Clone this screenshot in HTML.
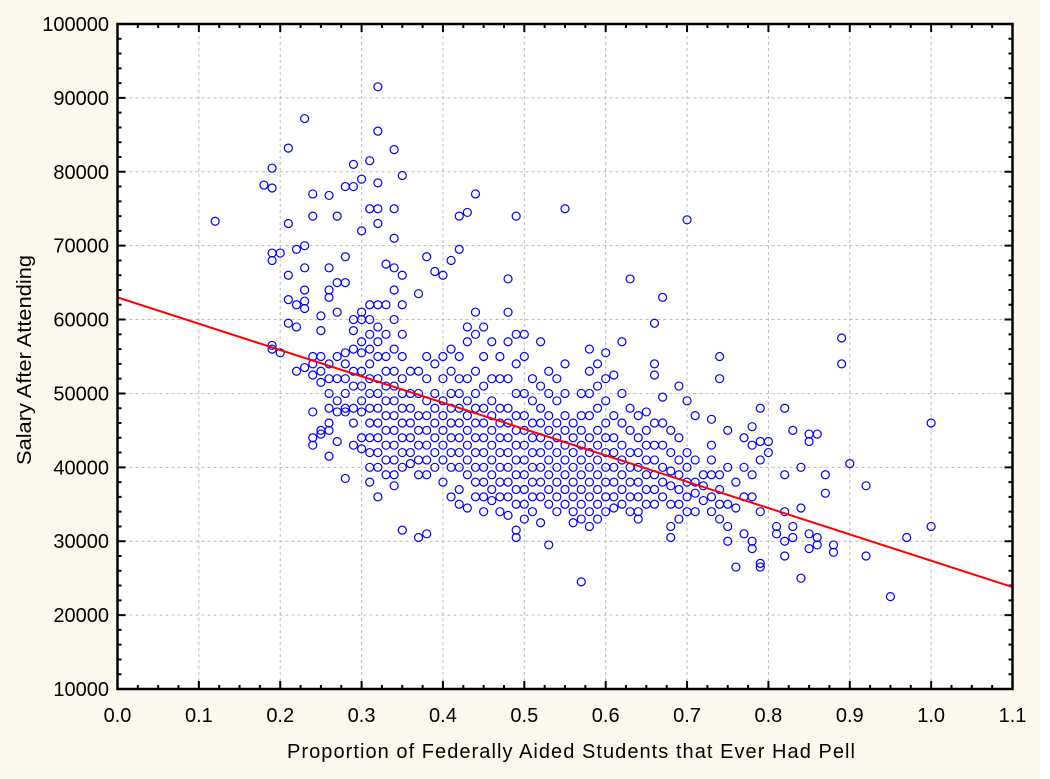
<!DOCTYPE html>
<html><head><meta charset="utf-8"><style>
html,body{margin:0;padding:0;background:#fff;}
svg{display:block;font-family:"Liberation Sans",Arial,sans-serif;}
</style></head><body>
<svg id="chart" width="1050" height="779" viewBox="0 0 1050 779" xmlns="http://www.w3.org/2000/svg">
<rect x="0" y="0" width="1040" height="779" fill="#fdf8ee"/>
<rect x="117.5" y="24" width="895" height="665" fill="#fff"/>
<g id="grid"></g>
<g id="ticks"></g>
<g id="points"></g>
<g id="fitline"></g>
<rect x="117.5" y="24" width="895" height="665" fill="none" stroke="#000" stroke-width="2.5"/>
<g id="labels"></g>
<text x="287" y="758" font-size="20" textLength="568" lengthAdjust="spacing" fill="#000">Proportion of Federally Aided Students that Ever Had Pell</text>
<text transform="translate(31,465) rotate(-90)" font-size="20" textLength="210" lengthAdjust="spacingAndGlyphs" fill="#000">Salary After Attending</text>
</svg>
<script>
const xTicks = [0.0,0.1,0.2,0.3,0.4,0.5,0.6,0.7,0.8,0.9,1.0,1.1];
const xTickLabels = ["0.0","0.1","0.2","0.3","0.4","0.5","0.6","0.7","0.8","0.9","1.0","1.1"];
const yTicks = [10000,20000,30000,40000,50000,60000,70000,80000,90000,100000];
const yTickLabels = ["10000","20000","30000","40000","50000","60000","70000","80000","90000","100000"];
const fitX = [0.0, 1.1];
const fitY = [63000, 23800];
const colX = [0.12,0.18,0.19,0.20,0.21,0.22,0.23,0.24,0.25,0.26,0.27,0.28,0.29,0.30,0.31,0.32,0.33,0.34,0.35,0.36,0.37,0.38,0.39,0.40,0.41,0.42,0.43,0.44,0.45,0.46,0.47,0.48,0.49,0.50,0.51,0.52,0.53,0.54,0.55,0.56,0.57,0.58,0.59,0.60,0.61,0.62,0.63,0.64,0.65,0.66,0.67,0.68,0.69,0.70,0.71,0.72,0.73,0.74,0.75,0.76,0.77,0.78,0.79,0.80,0.81,0.82,0.83,0.84,0.85,0.86,0.87,0.88,0.89,0.90,0.92,0.95,0.97,1.00];
const colSalaryK = [
[73.3],[78.2],[80.5,77.8,69,68,56.5,56],[69,55.5],[83.2,73,66,62.7,59.5],[69.5,62,59,53],
[87.2,70,67,64,62.5,61.5,53.5],[77,74,55,54,52.5,47.5,44,43],[60.5,58.5,55,53,51.5,45,44.5],
[76.8,67,64,63,54,52,50,48,46,45,41.5],[74,65,61,55,52,49,47.5,43.5],[78,68.5,65,55.5,54,52,50,48,47.5,38.5],
[81,78,60,58.5,56,53,51,48,46,43],[79,72,61,60,57,55.5,53,51,49,47.5,44,42.5],
[81.5,75,62,60,58,56,54,52,50,48,46,44,42,40,38],[91.5,85.5,78.5,75,73,62,59,57,55,52,50,48,46,44,42,40,36],
[67.5,62,58,55,53,51,49,47,45,43,41,39],[83,75,71,67,64,60,56,53,51,49,47,45,43,41,39,37.5],
[79.5,66,62,58,55,52,50,48,46,44,42,40,31.5],[53,50,48,46,44,42,40.5],[63.5,53,50,47,45,43,41,39,30.5],
[68.5,55,52,49,47,45,43,41,39,31],[66.5,54,50,48,46,44,42,40],[66,55,52,49,47,45,43,41,38],
[68,56,53,50,48,46,44,42,40,36],[74,69.5,55,52,50,48,46,44,42,40,37,35],[74.5,59,57,52,49,47,45,43,41,39,34.5],
[77,61,58,53,50,48,46,44,42,40,38,36],[59,55,51,48,46,44,42,40,38,36,34],[57,52,49,47,45,43,41,39,37,35.5],
[55,52,48,46,44,42,40,38,36,34],[65.5,61,57,52,48,46,44,42,40,38,36,33.5],[74,58,54,50,47,45,43,41,39,37,35,31.5,30.5],
[58,55,50,47,45,43,41,39,37,35,33],[52,49,46,44,42,40,38,36,34],[57,51,48,46,44,42,40,38,36,32.5],
[53,50,47,45,43,41,39,37,35,29.5],[52,49,46,44,42,40,38,36,34],[75,54,50,47,45,43,41,39,37,35],
[46,44,42,40,38,36,34,32.5],[50,47,45,43,41,39,37,35,33,24.5],[56,53,50,47,44,42,40,38,36,34,32],
[54,51,48,45,43,41,39,37,35,33],[55.5,52,49,46,44,42,40,38,36,34],[52.5,47,44,42,40,38,36,34.5],
[57,50,46,43,41,39,37,35],[65.5,48,45,42,40,38,36,34],[47,44,42,40,38,36,34,33],[47.5,45,43,41,39,37,35],
[59.5,54,52.5,46,43,41,39,37,35],[63,49.5,46,43,40,38,36],[45,42,39.5,37.5,35,32,30.5],[51,44,41,39,37,35,33],
[73.5,49,42,40,38,36,34],[47,41,38,36.5,34],[39,37.5,35.5],[46.5,43,41,39,36,34],[55,52,39,37,35,33],
[45,40,35,32,30],[38,34.5,26.5],[44,40,36,31],[45.5,43,39,36,30,29],[48,43.5,41,34,27,26.5],[43.5,42],
[32,31],[48,39,34,30,28],[45,32,30.5],[40,34.5,25],[44.5,43.5,31,29],[44.5,30.5,29.5],[39,36.5],
[29.5,28.5],[57.5,54],[40.5],[37.5,28],[22.5],[30.5],[46,32]
];
const X0=117.5, X1=1012.5, Y0=689, Y1=24;
const xMin=0, xMax=1.1, yMin=10000, yMax=100000;
function sx(v){return X0+(v-xMin)/(xMax-xMin)*(X1-X0);}
function sy(v){return Y0-(v-yMin)/(yMax-yMin)*(Y0-Y1);}
const NS="http://www.w3.org/2000/svg";
function mk(tag,attrs,parent){const e=document.createElementNS(NS,tag);for(const k in attrs)e.setAttribute(k,attrs[k]);parent.appendChild(e);return e;}
const grid=document.getElementById('grid'), ticks=document.getElementById('ticks'), labels=document.getElementById('labels');
xTicks.forEach((t,i)=>{
  const x=sx(t);
  if(i>0&&i<xTicks.length-1){
    const g=mk('line',{x1:x,x2:x,y1:Y1,y2:Y0,stroke:'#bbb','stroke-dasharray':'3,3','stroke-width':1},grid);
    
    
  }
  const tk=mk('path',{d:`M${x},${Y0}v-8M${x},${Y1}v8`,stroke:'#000','stroke-width':2},ticks);
  
  
  if(i<xTicks.length-1){for(let m=1;m<4;m++){const xm=sx(t+(xTicks[1]-xTicks[0])*m/4);
    const mt=mk('path',{d:`M${xm},${Y0}v-4M${xm},${Y1}v4`,stroke:'#000','stroke-width':2},ticks);
    
    }}
  const lb=mk('text',{x:x,y:722,'font-size':20,'text-anchor':'middle',fill:'#000'},labels);
  lb.textContent=xTickLabels[i];
  
  
});
yTicks.forEach((t,i)=>{
  const y=sy(t);
  if(i>0&&i<yTicks.length-1){
    const g=mk('line',{x1:X0,x2:X1,y1:y,y2:y,stroke:'#bbb','stroke-dasharray':'3,3','stroke-width':1},grid);
    
    
  }
  const tk=mk('path',{d:`M${X0},${y}h8M${X1},${y}h-8`,stroke:'#000','stroke-width':2},ticks);
  
  
  if(i<yTicks.length-1){for(let m=1;m<5;m++){const ym=sy(t+(yTicks[1]-yTicks[0])*m/5);
    const mt=mk('path',{d:`M${X0},${ym}h4M${X1},${ym}h-4`,stroke:'#000','stroke-width':2},ticks);
    
    }}
  const lb=mk('text',{x:109,y:y+7,'font-size':20,'text-anchor':'end',fill:'#000'},labels);
  lb.textContent=yTickLabels[i];
  
  
});
const pts=document.getElementById('points');
colX.forEach((xv,i)=>{
  colSalaryK[i].forEach(s=>{
    const c=mk('circle',{cx:sx(xv),cy:sy(s*1000),r:4,fill:'none',stroke:'#0000ff','stroke-width':1.2},pts);
    
    
  });
});
const fl=mk('line',{x1:sx(fitX[0]),y1:sy(fitY[0]),x2:sx(fitX[1]),y2:sy(fitY[1]),stroke:'#ff0000','stroke-width':2},document.getElementById('fitline'));


</script>
</body></html>
